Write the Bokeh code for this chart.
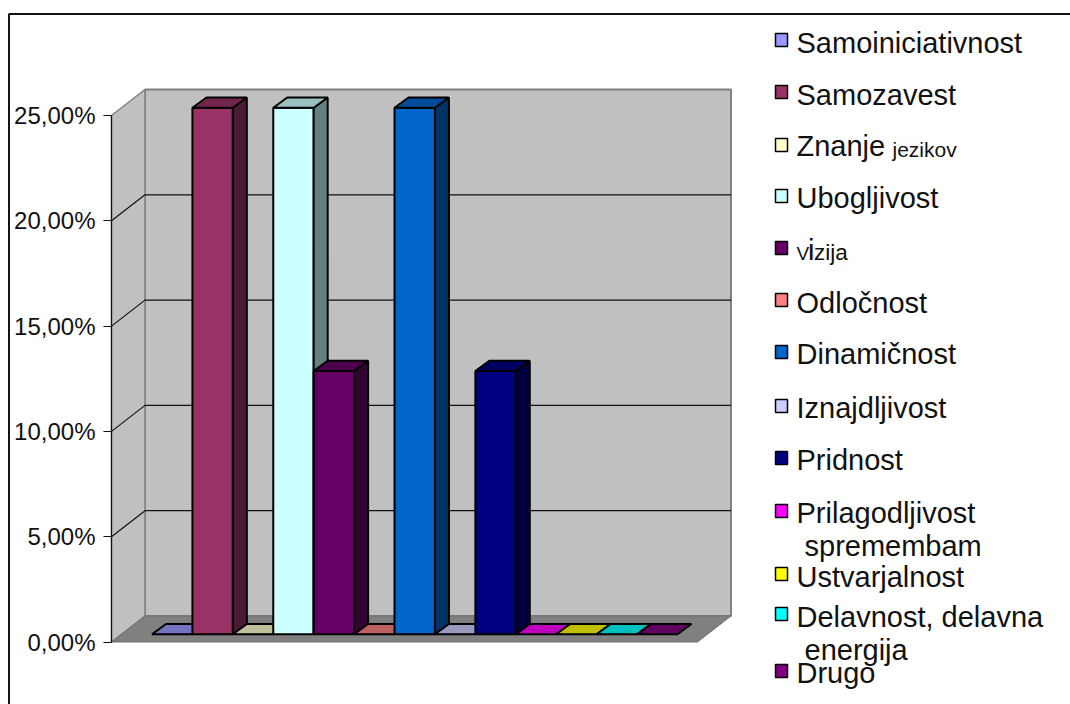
from bokeh.core.properties import value
from bokeh.embed import file_html
from bokeh.models import FixedTicker, LinearAxis, Range1d
from bokeh.plotting import figure
from bokeh.resources import INLINE

# Series in legend order, with their share in percent
series_names = [
    "Samoiniciativnost", "Samozavest", "Znanje jezikov", "Ubogljivost", "Vizija",
    "Odločnost", "Dinamičnost", "Iznajdljivost", "Pridnost",
    "Prilagodljivost spremembam", "Ustvarjalnost", "Delavnost, delavna energija", "Drugo",
]
series_values = [0, 25, 0, 25, 12.5, 0, 25, 0, 12.5, 0, 0, 0, 0]
series_colors = [
    "#9999FF", "#993366", "#FFFFCC", "#CCFFFF", "#660066", "#FF8080", "#0066CC",
    "#CCCCFF", "#000080", "#FF00FF", "#FFFF00", "#00FFFF", "#800080",
]
tick_values = [0, 5, 10, 15, 20, 25]
tick_labels = ["0,00%", "5,00%", "10,00%", "15,00%", "20,00%", "25,00%"]

WIDTH, HEIGHT = 1070, 704

# Pixel layout of the projected box
PX_PER_PERCENT = 21.06
PX_PER_SLOT = 40.42
SLOT0_PX = 151.5
ZERO_PX = 641.5
FRONT_LEFT_PX = 111.0
FRONT_RIGHT_PX = 697.0
WALL_DX_PX, WALL_DY_PX = 33.5, 26.0
BAR_DX_PX, BAR_DY_PX = 14.0, 10.2
BAR_BASE_PX = 633.7

# Shift that puts a text run's alphabetic baseline on its nominal y, per pixel of font size
BASELINE_SHIFT = 0.35


def data_x(px):
    return (px - SLOT0_PX) / PX_PER_SLOT


def data_y(px):
    return (ZERO_PX - px) / PX_PER_PERCENT


def shade(hex_color, factor):
    channels = [int(hex_color[i:i + 2], 16) for i in (1, 3, 5)]
    return "#" + "".join(f"{round(c * factor):02X}" for c in channels)


p = figure(
    width=WIDTH, height=HEIGHT, output_backend="svg", toolbar_location=None,
    x_range=Range1d(data_x(0), data_x(WIDTH)),
    y_range=Range1d(data_y(HEIGHT), data_y(0)),
    x_axis_location=None, y_axis_location=None, min_border=0,
    outline_line_color=None, background_fill_color="white", border_fill_color="white",
)
p.grid.visible = False

wall_dx = WALL_DX_PX / PX_PER_SLOT
wall_dy = WALL_DY_PX / PX_PER_PERCENT
bar_dx = BAR_DX_PX / PX_PER_SLOT
bar_dy = BAR_DY_PX / PX_PER_PERCENT
left = data_x(FRONT_LEFT_PX)
right = data_x(FRONT_RIGHT_PX)
top_value = tick_values[-1]
base = data_y(BAR_BASE_PX)

# Outer chart border, which runs off the page at the right and bottom
p.line(
    [data_x(8.5), data_x(8.5), data_x(WIDTH + 5)],
    [data_y(HEIGHT + 5), data_y(13.5), data_y(13.5)],
    line_color="#141414", line_width=2,
)

# Back wall, side wall and floor
p.patch(
    [left + wall_dx, right + wall_dx, right + wall_dx, left + wall_dx],
    [wall_dy, wall_dy, top_value + wall_dy, top_value + wall_dy],
    fill_color="#C0C0C0", line_color="#808080", line_width=2,
)
p.patch(
    [left, left + wall_dx, left + wall_dx, left],
    [0, wall_dy, top_value + wall_dy, top_value],
    fill_color="#C0C0C0", line_color="#808080", line_width=1.5,
)
p.patch(
    [left, left + wall_dx, right + wall_dx, right],
    [0, wall_dy, wall_dy, 0],
    fill_color="#808080", line_color="#707070", line_width=1,
)

# Gridlines along the side wall and across the back wall
grid_values = tick_values[1:-1]
p.multi_line(
    [[left, left + wall_dx, right + wall_dx] for _ in grid_values],
    [[v, v + wall_dy, v + wall_dy] for v in grid_values],
    line_color="#111111", line_width=1.2,
)

# Bars, left to right so that nearer faces overlap correctly
for i, (val, color) in enumerate(zip(series_values, series_colors)):
    x0, x1 = i, i + 1
    y1 = base + val
    if val > 0:
        p.quad(left=x0, right=x1, bottom=base, top=y1,
               fill_color=color, line_color="black", line_width=2)
        p.patch([x1, x1 + bar_dx, x1 + bar_dx, x1],
                [base, base + bar_dy, y1 + bar_dy, y1],
                fill_color=shade(color, 0.5), line_color="black", line_width=2)
    p.patch([x0, x0 + bar_dx, x1 + bar_dx, x1],
            [y1, y1 + bar_dy, y1 + bar_dy, y1],
            fill_color=shade(color, 0.75), line_color="black", line_width=2)

# Percent axis on the front edge of the side wall
axis = LinearAxis(
    fixed_location=left,
    ticker=FixedTicker(ticks=tick_values),
    major_label_overrides=dict(zip(tick_values, tick_labels)),
    bounds=(tick_values[0], tick_values[-1]),
    major_tick_in=0, major_tick_out=8, minor_tick_out=0, minor_tick_in=0,
    major_tick_line_color="#111111", major_tick_line_width=1.2,
    axis_line_color="#111111", axis_line_width=1.2,
    major_label_text_font="Liberation Sans", major_label_text_font_size="24px",
    major_label_text_color="#111111", major_label_standoff=8,
    major_label_text_line_height=1.0,
)
p.add_layout(axis, "left")

# Legend swatches: top and bottom edge of each
swatch_tops = [33, 85, 138, 189, 241, 293, 345, 399, 451, 504, 567, 607, 664]
swatch_bottoms = [46, 98, 151, 202, 254, 306, 358, 412, 464, 517, 580, 620, 677]
p.quad(
    left=data_x(775), right=data_x(787),
    top=[data_y(t) for t in swatch_tops],
    bottom=[data_y(b) for b in swatch_bottoms],
    fill_color=series_colors, line_color="black", line_width=1.5,
)

# Legend text runs: wording, left edge, baseline, size
legend_runs = [
    ("Samoiniciativnost", 796, 52.7, 29),
    ("Samozavest", 796, 105, 29),
    ("Znanje", 796, 156, 29),
    ("jezikov", 892, 156, 21),
    ("Ubogljivost", 796, 208, 29),
    ("V", 796, 260, 19),
    ("i", 807.5, 260, 29),
    ("zija", 813.5, 260, 22.5),
    ("Odločnost", 796, 312.7, 29),
    ("Dinamičnost", 796, 364, 29),
    ("Iznajdljivost", 796, 418, 29),
    ("Pridnost", 796, 470, 29),
    ("Prilagodljivost", 796, 522.7, 29),
    ("spremembam", 804, 556, 29),
    ("Ustvarjalnost", 796, 586.7, 29),
    ("Delavnost, delavna", 796, 626.7, 29),
    ("energija", 804, 660, 29),
    ("Drugo", 796, 682.7, 29),
]
for text, x_px, y_px, size in legend_runs:
    p.text(
        [data_x(x_px)], [data_y(y_px)], text=[text], y_offset=-BASELINE_SHIFT * size,
        text_font=value("Liberation Sans"), text_font_size=f"{size}px",
        text_color="#111111", text_baseline="alphabetic", text_align="left",
    )

open("out.html", "w").write(file_html(p, INLINE))
